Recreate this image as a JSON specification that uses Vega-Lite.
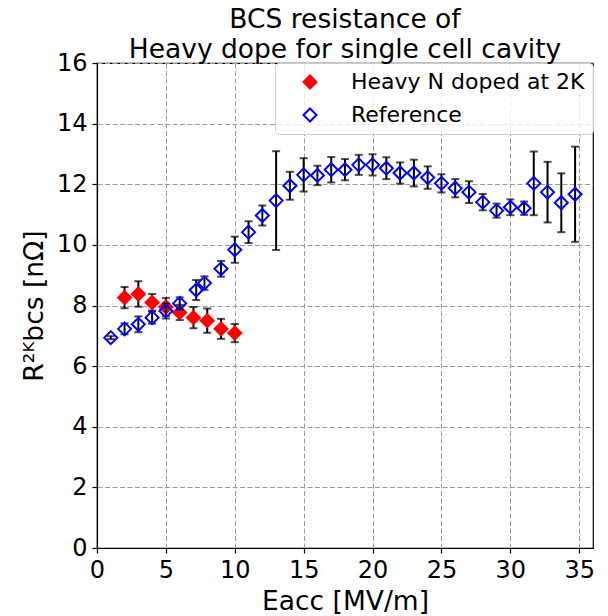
{
  "$schema": "https://vega.github.io/schema/vega-lite/v6.json",
  "width": 496,
  "height": 485,
  "autosize": {"type": "none"},
  "padding": {"left": 97, "top": 63, "right": 15, "bottom": 68},
  "background": "white",
  "title": {
    "text": ["BCS resistance of", "Heavy dope for single cell cavity"],
    "font": "DejaVu Sans",
    "fontSize": 26.5,
    "fontWeight": "normal",
    "color": "black",
    "lineHeight": 29.5,
    "anchor": "middle",
    "offset": -12
  },
  "data": {
    "values": [
      {"series": "Heavy N doped at 2K", "eacc": 2, "r": 8.26, "lo": 7.91, "hi": 8.61},
      {"series": "Heavy N doped at 2K", "eacc": 3, "r": 8.38, "lo": 7.96, "hi": 8.8},
      {"series": "Heavy N doped at 2K", "eacc": 4, "r": 8.1, "lo": 7.83, "hi": 8.38},
      {"series": "Heavy N doped at 2K", "eacc": 5, "r": 7.95, "lo": 7.65, "hi": 8.25},
      {"series": "Heavy N doped at 2K", "eacc": 6, "r": 7.77, "lo": 7.52, "hi": 8.02},
      {"series": "Heavy N doped at 2K", "eacc": 7, "r": 7.6, "lo": 7.25, "hi": 7.95},
      {"series": "Heavy N doped at 2K", "eacc": 8, "r": 7.5, "lo": 7.1, "hi": 7.9},
      {"series": "Heavy N doped at 2K", "eacc": 9, "r": 7.23, "lo": 6.9, "hi": 7.56},
      {"series": "Heavy N doped at 2K", "eacc": 10, "r": 7.09, "lo": 6.79, "hi": 7.39},
      {"series": "Reference", "eacc": 1, "r": 6.94, "lo": 6.89, "hi": 6.99},
      {"series": "Reference", "eacc": 2, "r": 7.23, "lo": 7.05, "hi": 7.41},
      {"series": "Reference", "eacc": 3, "r": 7.38, "lo": 7.12, "hi": 7.64},
      {"series": "Reference", "eacc": 4, "r": 7.6, "lo": 7.4, "hi": 7.8},
      {"series": "Reference", "eacc": 5, "r": 7.82, "lo": 7.57, "hi": 8.07},
      {"series": "Reference", "eacc": 6, "r": 8.07, "lo": 7.87, "hi": 8.27},
      {"series": "Reference", "eacc": 7.2, "r": 8.51, "lo": 8.18, "hi": 8.84},
      {"series": "Reference", "eacc": 7.8, "r": 8.74, "lo": 8.52, "hi": 8.96},
      {"series": "Reference", "eacc": 9, "r": 9.21, "lo": 8.95, "hi": 9.47},
      {"series": "Reference", "eacc": 10, "r": 9.84, "lo": 9.41, "hi": 10.27},
      {"series": "Reference", "eacc": 11, "r": 10.42, "lo": 10.06, "hi": 10.78},
      {"series": "Reference", "eacc": 12, "r": 10.97, "lo": 10.64, "hi": 11.3},
      {"series": "Reference", "eacc": 13, "r": 11.46, "lo": 9.83, "hi": 13.09},
      {"series": "Reference", "eacc": 14, "r": 11.95, "lo": 11.49, "hi": 12.41},
      {"series": "Reference", "eacc": 15, "r": 12.31, "lo": 11.76, "hi": 12.86},
      {"series": "Reference", "eacc": 16, "r": 12.29, "lo": 11.97, "hi": 12.61},
      {"series": "Reference", "eacc": 17, "r": 12.48, "lo": 12.06, "hi": 12.9},
      {"series": "Reference", "eacc": 18, "r": 12.48, "lo": 12.13, "hi": 12.83},
      {"series": "Reference", "eacc": 19, "r": 12.64, "lo": 12.31, "hi": 12.97},
      {"series": "Reference", "eacc": 20, "r": 12.64, "lo": 12.29, "hi": 12.99},
      {"series": "Reference", "eacc": 21, "r": 12.53, "lo": 12.17, "hi": 12.89},
      {"series": "Reference", "eacc": 22, "r": 12.37, "lo": 12.02, "hi": 12.72},
      {"series": "Reference", "eacc": 23, "r": 12.37, "lo": 11.93, "hi": 12.81},
      {"series": "Reference", "eacc": 24, "r": 12.22, "lo": 11.85, "hi": 12.59},
      {"series": "Reference", "eacc": 25, "r": 12.03, "lo": 11.73, "hi": 12.33},
      {"series": "Reference", "eacc": 26, "r": 11.87, "lo": 11.57, "hi": 12.17},
      {"series": "Reference", "eacc": 27, "r": 11.74, "lo": 11.38, "hi": 12.1},
      {"series": "Reference", "eacc": 28, "r": 11.41, "lo": 11.14, "hi": 11.68},
      {"series": "Reference", "eacc": 29, "r": 11.13, "lo": 10.9, "hi": 11.36},
      {"series": "Reference", "eacc": 30, "r": 11.24, "lo": 10.98, "hi": 11.5},
      {"series": "Reference", "eacc": 31, "r": 11.21, "lo": 10.99, "hi": 11.43},
      {"series": "Reference", "eacc": 31.7, "r": 12.03, "lo": 10.98, "hi": 13.08},
      {"series": "Reference", "eacc": 32.7, "r": 11.74, "lo": 10.74, "hi": 12.74},
      {"series": "Reference", "eacc": 33.7, "r": 11.39, "lo": 10.42, "hi": 12.36},
      {"series": "Reference", "eacc": 34.7, "r": 11.67, "lo": 10.1, "hi": 13.24}
    ]
  },
  "encoding": {
    "x": {
      "field": "eacc",
      "type": "quantitative",
      "scale": {"domain": [0, 36], "nice": false, "zero": false},
      "axis": {"values": [0, 5, 10, 15, 20, 25, 30, 35], "title": "Eacc [MV/m]", "labelFlush": false, "titlePadding": 6}
    }
  },
  "layer": [
    {
      "transform": [{"filter": "datum.series === 'Heavy N doped at 2K'"}],
      "layer": [
        {"mark": {"type": "rule", "color": "black", "strokeWidth": 2}, "encoding": {"y": {"field": "lo", "type": "quantitative", "scale": {"domain": [0, 16], "nice": false}, "axis": {"values": [0, 2, 4, 6, 8, 10, 12, 14, 16], "title": "R²ᴷbcs [nΩ]", "labelFlush": false}}, "y2": {"field": "hi"}}},
        {"mark": {"type": "tick", "orient": "horizontal", "color": "black", "size": 8, "thickness": 2}, "encoding": {"y": {"field": "lo", "type": "quantitative"}}},
        {"mark": {"type": "tick", "orient": "horizontal", "color": "black", "size": 8, "thickness": 2}, "encoding": {"y": {"field": "hi", "type": "quantitative"}}}
      ]
    },
    {
      "transform": [{"filter": "datum.series === 'Heavy N doped at 2K'"}],
      "mark": {"type": "point", "shape": "diamond", "size": 169, "strokeWidth": 2, "opacity": 1, "filled": false},
      "encoding": {
        "y": {"field": "r", "type": "quantitative"},
        "stroke": {"field": "series", "type": "nominal", "scale": {"domain": ["Heavy N doped at 2K", "Reference"], "range": ["#ff0000", "#0000ff"]}, "legend": {"title": null}},
        "fill": {"field": "series", "type": "nominal", "scale": {"domain": ["Heavy N doped at 2K", "Reference"], "range": ["#ff0000", "rgba(255,255,255,0)"]}, "legend": {"title": null}}
      }
    },
    {
      "transform": [{"filter": "datum.series === 'Reference'"}],
      "layer": [
        {"mark": {"type": "rule", "color": "black", "strokeWidth": 2}, "encoding": {"y": {"field": "lo", "type": "quantitative"}, "y2": {"field": "hi"}}},
        {"mark": {"type": "tick", "orient": "horizontal", "color": "black", "size": 8, "thickness": 2}, "encoding": {"y": {"field": "lo", "type": "quantitative"}}},
        {"mark": {"type": "tick", "orient": "horizontal", "color": "black", "size": 8, "thickness": 2}, "encoding": {"y": {"field": "hi", "type": "quantitative"}}}
      ]
    },
    {
      "transform": [{"filter": "datum.series === 'Reference'"}],
      "mark": {"type": "point", "shape": "diamond", "size": 169, "strokeWidth": 2, "opacity": 1, "filled": false},
      "encoding": {
        "y": {"field": "r", "type": "quantitative"},
        "stroke": {"field": "series", "type": "nominal", "scale": {"domain": ["Heavy N doped at 2K", "Reference"], "range": ["#ff0000", "#0000ff"]}, "legend": {"title": null}},
        "fill": {"field": "series", "type": "nominal", "scale": {"domain": ["Heavy N doped at 2K", "Reference"], "range": ["#ff0000", "rgba(255,255,255,0)"]}, "legend": {"title": null}}
      }
    }
  ],
  "resolve": {"scale": {"y": "shared"}},
  "config": {
    "font": "DejaVu Sans",
    "view": {"stroke": "black", "strokeWidth": 1.2},
    "axis": {
      "domainColor": "black",
      "domainWidth": 1.2,
      "tickColor": "black",
      "tickWidth": 1.2,
      "tickSize": 5,
      "labelFont": "DejaVu Sans",
      "labelFontSize": 24,
      "labelColor": "black",
      "labelPadding": 5,
      "titleFont": "DejaVu Sans",
      "titleFontSize": 26.5,
      "titleFontWeight": "normal",
      "titleColor": "black",
      "gridColor": "#9a9a9a",
      "gridDash": [5, 2.5],
      "gridWidth": 1,
      "gridOpacity": 1
    },
    "axisY": {
      "titlePadding": 8
    },
    "legend": {
      "orient": "top-right",
      "offset": 0,
      "padding": 8,
      "fillColor": "rgba(255,255,255,0.8)",
      "strokeColor": "#cccccc",
      "strokeWidth": 1,
      "cornerRadius": 4,
      "labelFont": "DejaVu Sans",
      "labelFontSize": 22,
      "labelColor": "black",
      "labelLimit": 400,
      "symbolType": "diamond",
      "symbolSize": 169,
      "symbolStrokeWidth": 2,
      "symbolOffset": 16,
      "labelOffset": 30,
      "rowPadding": 11
    }
  }
}
